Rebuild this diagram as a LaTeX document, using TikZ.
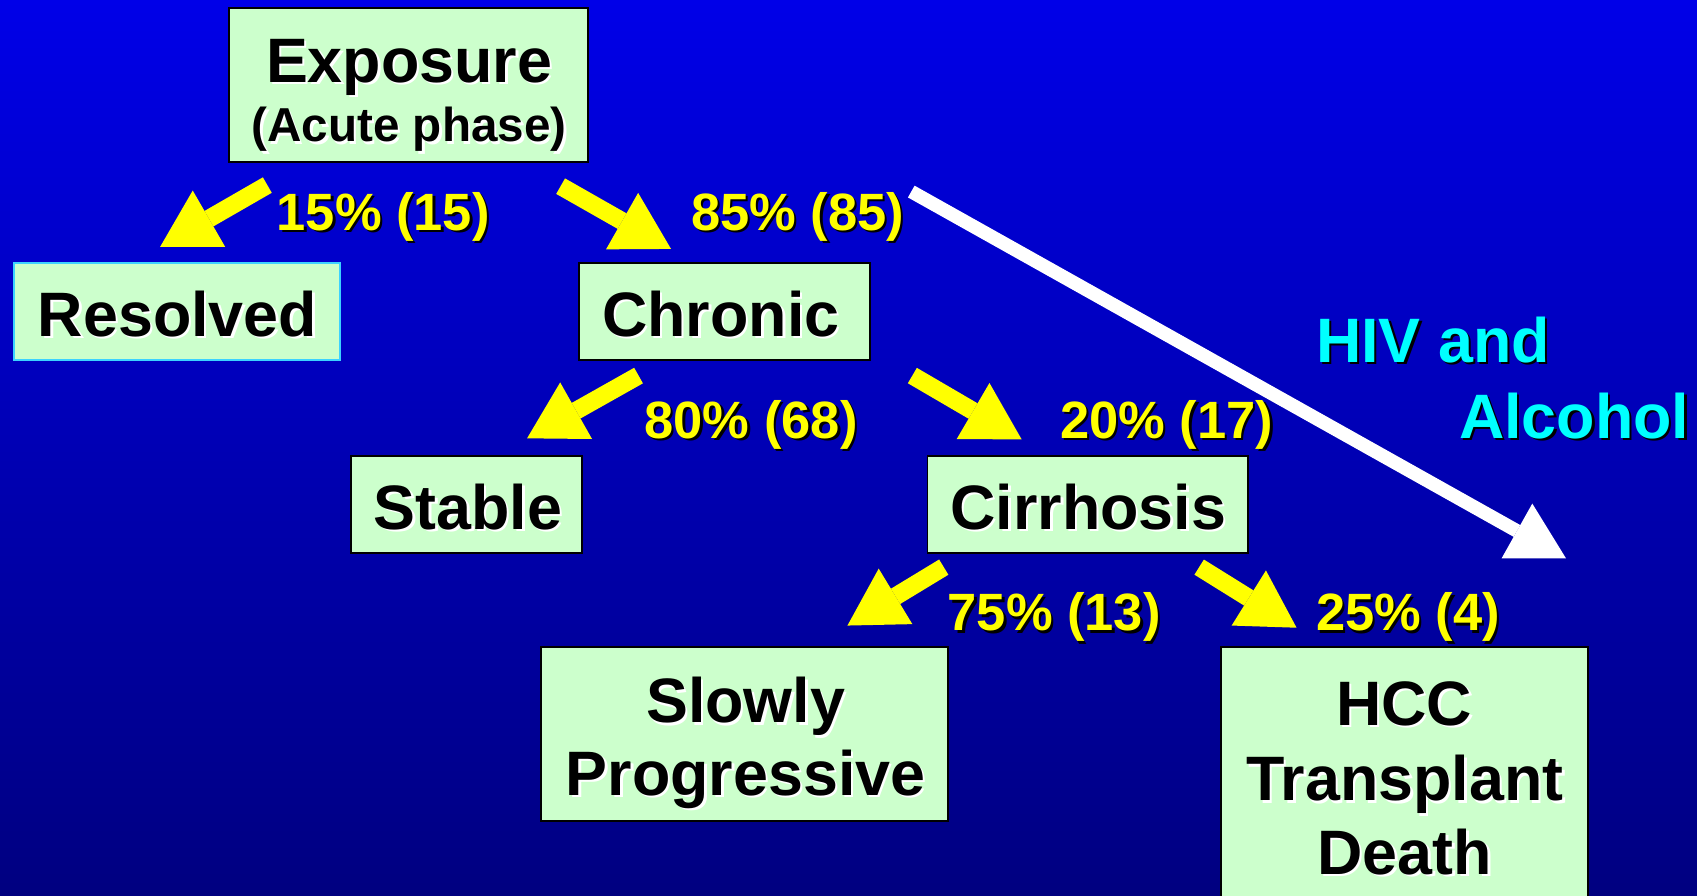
\documentclass[tikz,border=0pt]{standalone}
\usepackage{fontspec}
\setmainfont{Liberation Sans}
\usetikzlibrary{arrows.meta}
\definecolor{bgtop}{RGB}{0,0,232}
\definecolor{bgbot}{RGB}{0,0,128}
\definecolor{boxfill}{RGB}{204,255,204}
\definecolor{resborder}{RGB}{60,210,255}
\definecolor{lblyellow}{RGB}{255,255,0}
\definecolor{lblcyan}{RGB}{0,255,255}
\newcommand{\shd}[3]{\leavevmode\rlap{\kern2.2pt\raisebox{-2.2pt}{\color{#2}#3}}{\color{#1}#3}}
\newcommand{\btxt}[1]{\shd{black}{white}{#1}}
\newcommand{\ytxt}[1]{\shd{lblyellow}{black}{#1}}
\newcommand{\ctxt}[1]{\shd{lblcyan}{black}{#1}}
\tikzset{
  box/.style={draw=black, line width=1.8pt, fill=boxfill, rectangle, inner sep=0pt},
  txt/.style={anchor=base, inner sep=0pt, font=\fontsize{58}{67}\selectfont\bfseries},
  subtxt/.style={anchor=base, inner sep=0pt, font=\fontsize{44}{52}\selectfont\bfseries},
  lbl/.style={anchor=base, inner sep=0pt, font=\fontsize{48.5}{56}\selectfont\bfseries},
  yarrow/.style={draw=lblyellow, line width=16.5pt, -{Triangle[length=52pt,width=60pt,line width=0pt]}},
  warrow/.style={draw=white, line width=12.5pt, -{Triangle[length=52pt,width=58pt,line width=0pt]}}
}
\begin{document}
\begin{tikzpicture}[x=1pt,y=-1pt]
\useasboundingbox (0,0) rectangle (1568,827);
\shade[top color=bgtop, bottom color=bgbot] (0,0) rectangle (1568,827);

% boxes
\node[box, minimum width=331pt, minimum height=143pt] (expo) at (377.5,78.5) {};
\node[box, draw=resborder, minimum width=301pt, minimum height=90pt] (res) at (163.5,288) {};
\node[box, minimum width=269pt, minimum height=90pt] (chron) at (669.5,288) {};
\node[box, minimum width=214pt, minimum height=90pt] (stab) at (431,466) {};
\node[box, minimum width=296pt, minimum height=90pt] (cirr) at (1005,466) {};
\node[box, minimum width=376pt, minimum height=161pt] (slow) at (688,678.5) {};
\node[box, minimum width=339pt, minimum height=242pt] (hcc) at (1297.5,719) {};

% box texts
\node[txt] (expoA) at (378,76) {\btxt{Exposure}};
\node[subtxt] (expoB) at (378,131) {\btxt{(Acute phase)}};
\node[txt] (resT) at (164,311) {\btxt{Resolved}};
\node[txt] (chronT) at (666,311) {\btxt{Chronic}};
\node[txt] (stabT) at (432.5,489) {\btxt{Stable}};
\node[txt] (cirrT) at (1005.5,489) {\btxt{Cirrhosis}};
\node[txt] (slowA) at (689,668) {\btxt{Slowly}};
\node[txt] (slowB) at (689,735) {\btxt{Progressive}};
\node[txt] (hccA) at (1297.5,670) {\btxt{HCC}};
\node[txt] (hccB) at (1298,740) {\btxt{Transplant}};
\node[txt] (hccC) at (1298,808) {\btxt{Death}};

% labels
\node[lbl] (l15) at (354,213) {\ytxt{15\% (15)}};
\node[lbl] (l85) at (737,213) {\ytxt{85\% (85)}};
\node[lbl] (l80) at (694,405) {\ytxt{80\% (68)}};
\node[lbl] (l20) at (1078,405) {\ytxt{20\% (17)}};
\node[lbl] (l75) at (974,583) {\ytxt{75\% (13)}};
\node[lbl] (l25) at (1301,583) {\ytxt{25\% (4)}};
\node[txt] (hiv) at (1324,335) {\ctxt{HIV and}};
\node[txt] (alc) at (1454.5,405) {\ctxt{Alcohol}};

% arrow end points
\coordinate (a1s) at (247,171);  \coordinate (a1e) at (148,228);
\coordinate (a2s) at (518,172);  \coordinate (a2e) at (620,230);
\coordinate (a3s) at (590,347);  \coordinate (a3e) at (487,405);
\coordinate (a4s) at (843,347);  \coordinate (a4e) at (944,406);
\coordinate (a5s) at (872,524);  \coordinate (a5e) at (783,578);
\coordinate (a6s) at (1108,524); \coordinate (a6e) at (1198,580);
\coordinate (ws) at (842,177);   \coordinate (we) at (1447,516);

\draw[yarrow] (a1s) -- (a1e);
\draw[yarrow] (a2s) -- (a2e);
\draw[yarrow] (a3s) -- (a3e);
\draw[yarrow] (a4s) -- (a4e);
\draw[yarrow] (a5s) -- (a5e);
\draw[yarrow] (a6s) -- (a6e);
\draw[warrow] (ws) -- (we);
\end{tikzpicture}
\end{document}
